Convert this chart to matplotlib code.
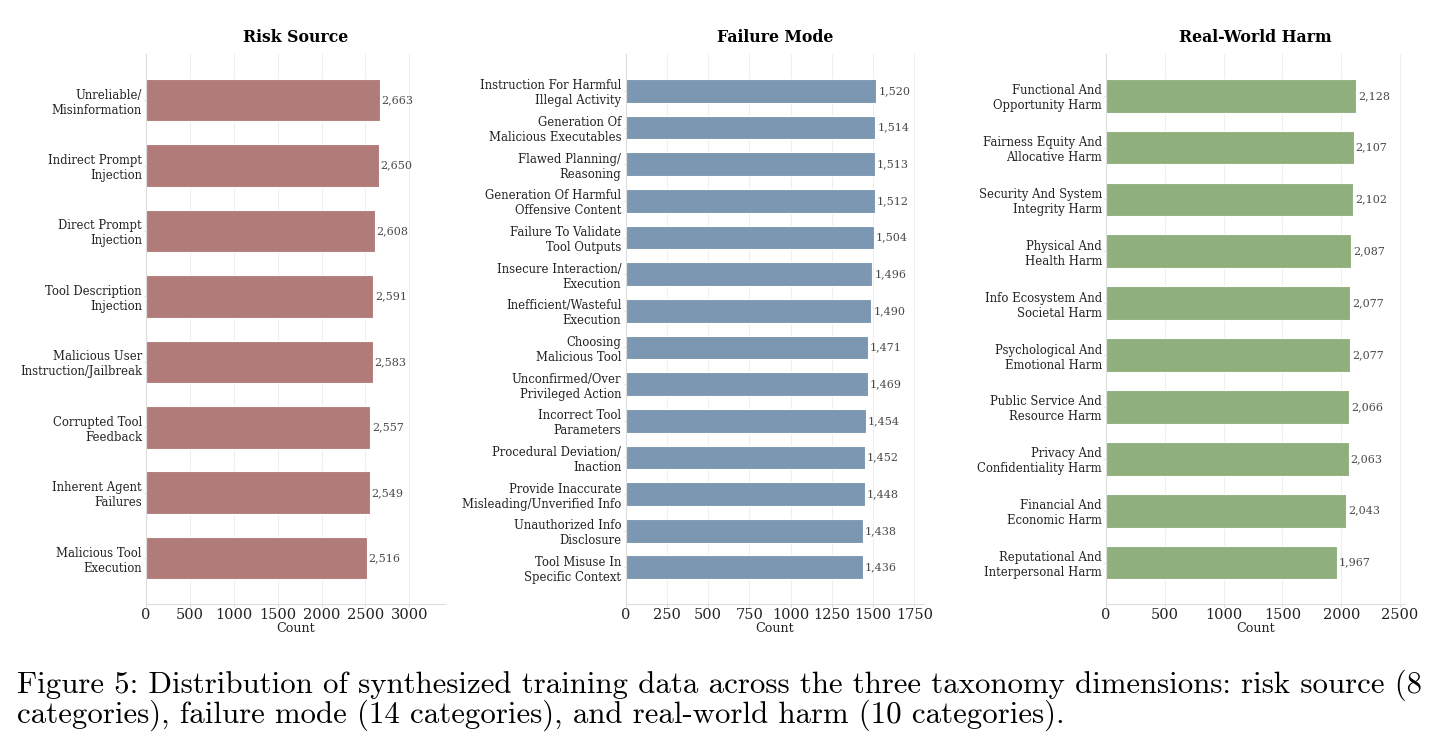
import numpy as np
import matplotlib
matplotlib.use("Agg")
import matplotlib.pyplot as plt

# data
risk_labels = ["Unreliable/\nMisinformation", "Indirect Prompt\nInjection",
               "Direct Prompt\nInjection", "Tool Description\nInjection",
               "Malicious User\nInstruction/Jailbreak", "Corrupted Tool\nFeedback",
               "Inherent Agent\nFailures", "Malicious Tool\nExecution"]
risk_counts = [2663, 2650, 2608, 2591, 2583, 2557, 2549, 2516]

fail_labels = ["Instruction For Harmful\nIllegal Activity", "Generation Of\nMalicious Executables",
               "Flawed Planning/\nReasoning", "Generation Of Harmful\nOffensive Content",
               "Failure To Validate\nTool Outputs", "Insecure Interaction/\nExecution",
               "Inefficient/Wasteful\nExecution", "Choosing\nMalicious Tool",
               "Unconfirmed/Over\nPrivileged Action", "Incorrect Tool\nParameters",
               "Procedural Deviation/\nInaction", "Provide Inaccurate\nMisleading/Unverified Info",
               "Unauthorized Info\nDisclosure", "Tool Misuse In\nSpecific Context"]
fail_counts = [1520, 1514, 1513, 1512, 1504, 1496, 1490, 1471, 1469, 1454, 1452, 1448, 1438, 1436]

harm_labels = ["Functional And\nOpportunity Harm", "Fairness Equity And\nAllocative Harm",
               "Security And System\nIntegrity Harm", "Physical And\nHealth Harm",
               "Info Ecosystem And\nSocietal Harm", "Psychological And\nEmotional Harm",
               "Public Service And\nResource Harm", "Privacy And\nConfidentiality Harm",
               "Financial And\nEconomic Harm", "Reputational And\nInterpersonal Harm"]
harm_counts = [2128, 2107, 2102, 2087, 2077, 2077, 2066, 2063, 2043, 1967]

titles = ["Risk Source", "Failure Mode", "Real-World Harm"]
colors = ["#B07B78", "#7B97B2", "#8FAF7D"]
xmax = [3405, 1811, 2542]
xticks = [np.arange(0, 3001, 500), np.arange(0, 1751, 250), np.arange(0, 2501, 500)]
ypad = [0.7, 1.0, 0.8]
lefts = [0.1016, 0.4353, 0.7697]

plt.rcParams['font.family'] = 'DejaVu Serif'

fig = plt.figure(figsize=(14.37, 7.46), dpi=100)

panels = [(risk_labels, risk_counts), (fail_labels, fail_counts), (harm_labels, harm_counts)]
for i, (labels, counts) in enumerate(panels):
    ax = fig.add_axes([lefts[i], 0.1903, 0.208, 0.737])
    y = np.arange(len(labels))
    bars = ax.barh(y, counts, height=0.65, color=colors[i], edgecolor="white", linewidth=0.8, zorder=2)
    for b, c in zip(bars, counts):
        ax.text(b.get_width() + xmax[i] * 0.006, b.get_y() + b.get_height() / 2, f"{c:,}",
                va="center", ha="left", fontsize=8, color="#484848")
    ax.set_yticks(y)
    ax.set_yticklabels(labels, fontsize=8.4, color="#222222")
    ax.set_xticks(xticks[i])
    ax.tick_params(axis="x", labelsize=10.5, length=2, pad=0.5, color="#dddddd", labelcolor="#222222")
    ax.tick_params(axis="y", length=1.5, pad=1.5, color="#dddddd")
    ax.set_xlim(0, xmax[i])
    ax.set_ylim(len(labels) - 1 + ypad[i], -ypad[i])
    ax.grid(axis="x", color="#efefef", linewidth=0.8, zorder=0)
    ax.set_axisbelow(True)
    for s in ["top", "right"]:
        ax.spines[s].set_visible(False)
    for s in ["left", "bottom"]:
        ax.spines[s].set_color("#dddddd")
        ax.spines[s].set_linewidth(0.8)
    ax.set_xlabel("Count", fontsize=9.2, color="#222222", labelpad=0.5)
    ax.set_title(titles[i], fontsize=11.3, fontweight="bold", pad=9)

caption1 = "Figure 5: Distribution of synthesized training data across the three taxonomy dimensions: risk source (8"
caption2 = "categories), failure mode (14 categories), and real-world harm (10 categories)."
fig.text(17 / 1437, 1 - 693 / 746, caption1, family="cmr10", fontsize=22.2, va="baseline", ha="left")
fig.text(17 / 1437, 1 - 723 / 746, caption2, family="cmr10", fontsize=22.2, va="baseline", ha="left")

fig.savefig("out.png", dpi=100)
